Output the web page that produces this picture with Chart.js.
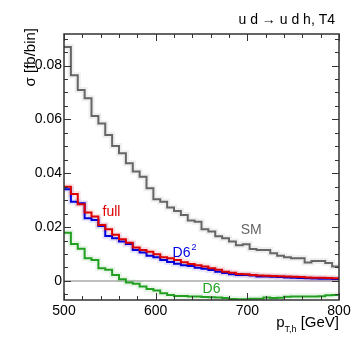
<!DOCTYPE html>
<html>
<head>
<meta charset="utf-8">
<script src="https://cdn.jsdelivr.net/npm/chart.js@4/dist/chart.umd.min.js"></script>
<style>
  html, body { margin: 0; padding: 0; background: #fff; }
  canvas { display: block; }
</style>
</head>
<body>
<canvas id="c" width="357" height="350"></canvas>
<script>
// histogram binning: 40 bins of 7.5 GeV starting at 500
const binLow = 500
const binWidth = 7.5

const smValues = [0.0869, 0.0764, 0.0709, 0.0678, 0.0612, 0.0585, 0.0542, 0.0501, 0.0474, 0.0437,
  0.0406, 0.0387, 0.0344, 0.0303, 0.0294, 0.0273, 0.0260, 0.0245, 0.0224, 0.0220,
  0.0192, 0.0183, 0.0166, 0.0158, 0.0146, 0.0132, 0.0136, 0.0118, 0.0115, 0.0115,
  0.0103, 0.0093, 0.0088, 0.0084, 0.0084, 0.0068, 0.0074, 0.0074, 0.0066, 0.0053]
const fullValues = [0.0350, 0.0323, 0.0285, 0.0254, 0.0239, 0.0208, 0.0192, 0.0171, 0.0155, 0.0142,
  0.0124, 0.0115, 0.0108, 0.0099, 0.0088, 0.0084, 0.0078, 0.0069, 0.0063, 0.0058,
  0.0053, 0.0047, 0.0041, 0.0034, 0.0030, 0.0026, 0.0025, 0.0022, 0.0020, 0.0019,
  0.0018, 0.0017, 0.0016, 0.0015, 0.0014, 0.0013, 0.0012, 0.0012, 0.0011, 0.0010]
const d6sqValues = [0.0340, 0.0294, 0.0288, 0.0233, 0.0226, 0.0204, 0.0167, 0.0158, 0.0146, 0.0137,
  0.0115, 0.0105, 0.0093, 0.0088, 0.0078, 0.0070, 0.0064, 0.0058, 0.0055, 0.0049,
  0.0045, 0.0040, 0.0034, 0.0029, 0.0025, 0.0022, 0.0022, 0.0020, 0.0016, 0.0016,
  0.0015, 0.0014, 0.0013, 0.0012, 0.0011, 0.0010, 0.0009, 0.0008, 0.0008, 0.0007]
const d6Values = [0.0179, 0.0137, 0.0119, 0.0084, 0.0078, 0.0047, 0.0041, 0.0022, 0.0006, -0.0006,
  -0.0011, -0.0021, -0.0030, -0.0036, -0.0046, -0.0052, -0.0056, -0.0056, -0.0058, -0.0058,
  -0.0060, -0.0061, -0.0062, -0.0064, -0.0067, -0.0068, -0.0068, -0.0066, -0.0066, -0.0062,
  -0.0064, -0.0063, -0.0059, -0.0058, -0.0058, -0.0058, -0.0058, -0.0057, -0.0053, -0.0052]

const xTicks = [500, 600, 700, 800]
const xTickLabels = ["500", "600", "700", "800"]
const yTicks = [0, 0.02, 0.04, 0.06, 0.08]
const yTickLabels = ["0", "0.02", "0.04", "0.06", "0.08"]

const FONT = "'Liberation Sans', Arial, Helvetica, sans-serif"

// turn bin contents into step points (left edge of each bin + closing edge)
function histPoints(values) {
  let pts = []
  for (let i = 0; i < values.length; i++) {
    pts.push({ x: binLow + i * binWidth, y: values[i] })
  }
  pts.push({ x: binLow + values.length * binWidth, y: values[values.length - 1] })
  return pts
}

function histLine(values, color, order) {
  return {
    data: histPoints(values),
    borderColor: color,
    borderWidth: 2,
    stepped: "before",
    pointRadius: 0,
    fill: false,
    order: order
  }
}

function halo(values, color) {
  return {
    data: histPoints(values),
    borderColor: color,
    borderWidth: 6,
    stepped: "before",
    pointRadius: 0,
    fill: false,
    order: 10
  }
}

const decorations = {
  id: "decorations",
  beforeDatasetsDraw(chart) {
    const { ctx, chartArea: a, scales } = chart
    const y0 = scales.y.getPixelForValue(0)
    ctx.save()
    ctx.strokeStyle = "#aaaaaa"
    ctx.lineWidth = 1.5
    ctx.beginPath()
    ctx.moveTo(a.left, y0)
    ctx.lineTo(a.right, y0)
    ctx.stroke()
    ctx.restore()
  },
  afterDatasetsDraw(chart) {
    const { ctx, chartArea: a, scales } = chart
    const xs = scales.x, ys = scales.y
    ctx.save()
    ctx.strokeStyle = "#333"
    ctx.lineWidth = 1.5
    ctx.strokeRect(a.left, a.top, a.right - a.left, a.bottom - a.top)

    // x ticks, inside the frame, bottom and top
    ctx.lineWidth = 1
    ctx.beginPath()
    for (let v = 500; v <= 800; v += 20) {
      let px = Math.round(xs.getPixelForValue(v)) + 0.5
      let len = v % 100 == 0 ? 7 : 4
      ctx.moveTo(px, a.bottom)
      ctx.lineTo(px, a.bottom - len)
      ctx.moveTo(px, a.top)
      ctx.lineTo(px, a.top + len)
    }
    // y ticks, left and right
    for (let k = -1; k <= 18; k++) {
      let v = k * 0.005
      let py = Math.round(ys.getPixelForValue(v)) + 0.5
      if (py < a.top || py > a.bottom) continue
      let len = k % 4 == 0 ? 7 : 4
      ctx.moveTo(a.left, py)
      ctx.lineTo(a.left + len, py)
      ctx.moveTo(a.right, py)
      ctx.lineTo(a.right - len, py)
    }
    ctx.stroke()

    // series labels
    function label(text, x, y, color, sup) {
      ctx.font = "14px " + FONT
      ctx.fillStyle = color
      ctx.textAlign = "left"
      ctx.textBaseline = "alphabetic"
      let px = xs.getPixelForValue(x), py = ys.getPixelForValue(y)
      ctx.fillText(text, px, py)
      if (sup) {
        let w = ctx.measureText(text).width
        ctx.font = "9px " + FONT
        ctx.fillText(sup, px + w + 1, py - 7)
      }
    }
    label("full", 542, 0.0241, "#dd0000")
    label("D6", 618.4, 0.0089, "#0000dd", "2")
    label("SM", 692.7, 0.0173, "#666666")
    label("D6", 651.2, -0.0046, "#22a022")

    // process title
    ctx.fillStyle = "#000"
    ctx.font = "14px " + FONT
    ctx.textAlign = "right"
    ctx.fillText("u d \u2192 u d h, T4", 335, 24)

    // y axis title
    ctx.save()
    ctx.translate(31, 28)
    ctx.rotate(-Math.PI / 2)
    ctx.font = "15px " + FONT
    ctx.textAlign = "right"
    ctx.textBaseline = "middle"
    ctx.fillText("\u03c3 [fb/bin]", 0, 0)
    ctx.restore()

    // x axis title with subscript
    ctx.textAlign = "left"
    ctx.textBaseline = "alphabetic"
    ctx.font = "15px " + FONT
    let tail = " [GeV]"
    let wTail = ctx.measureText(tail).width
    let wP = ctx.measureText("p").width
    ctx.font = "9px " + FONT
    let wSub = ctx.measureText("T,h").width
    let right = 339
    let xStart = right - wTail - wSub - wP
    ctx.font = "15px " + FONT
    ctx.fillText("p", xStart, 327)
    ctx.fillText(tail, right - wTail, 327)
    ctx.font = "9px " + FONT
    ctx.fillText("T,h", xStart + wP, 332)
    ctx.restore()
  }
}

const ctx = document.getElementById("c")

const chart = new Chart(ctx, {
  type: "line",
  data: {
    datasets: [
      histLine(fullValues, "#dd0000", 0),
      histLine(d6sqValues, "#0000dd", 1),
      histLine(smValues, "#666666", 2),
      histLine(d6Values, "#22a022", 3),
      halo(smValues, "rgba(120,120,120,0.12)"),
      halo(fullValues, "rgba(220,0,0,0.1)"),
      halo(d6sqValues, "rgba(0,0,220,0.1)"),
      halo(d6Values, "rgba(30,160,30,0.1)")
    ]
  },
  options: {
    responsive: false,
    animation: false,
    devicePixelRatio: 1,
    layout: {
      padding: { top: 34, right: 18, left: 0, bottom: 0 }
    },
    plugins: {
      legend: { display: false },
      title: { display: false },
      tooltip: { enabled: false }
    },
    scales: {
      x: {
        type: "linear",
        min: 500,
        max: 800,
        grid: { display: false, drawTicks: false, tickLength: 0 },
        border: { display: false },
        afterBuildTicks(scale) {
          scale.ticks = xTicks.map(v => ({ value: v }))
        },
        afterFit(scale) {
          scale.height = 50
        },
        ticks: {
          padding: 3,
          color: "#000",
          font: { size: 14, family: FONT },
          maxRotation: 0,
          callback: (v) => xTickLabels[xTicks.indexOf(v)]
        }
      },
      y: {
        type: "linear",
        min: -0.0071,
        max: 0.0917,
        grid: { display: false, drawTicks: false, tickLength: 0 },
        border: { display: false },
        afterBuildTicks(scale) {
          scale.ticks = yTicks.map(v => ({ value: v }))
        },
        afterFit(scale) {
          scale.width = 64
        },
        ticks: {
          padding: 2,
          color: "#000",
          font: { size: 14, family: FONT },
          callback: (v) => yTickLabels[yTicks.indexOf(v)]
        }
      }
    }
  },
  plugins: [decorations]
})
</script>
</body>
</html>
